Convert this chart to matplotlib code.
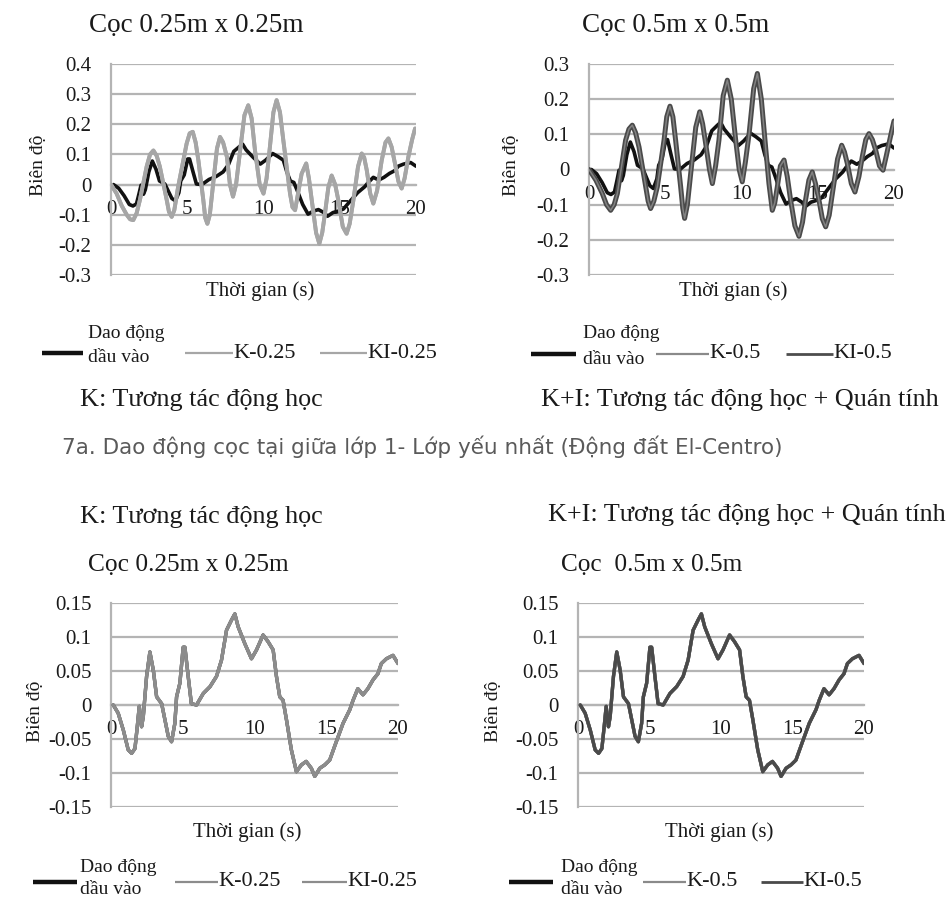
import matplotlib
matplotlib.use("Agg")
import matplotlib.pyplot as plt
from matplotlib.lines import Line2D

W, H = 952, 900
SERIF = ["Liberation Serif", "DejaVu Serif"]
plt.rcParams["font.family"] = SERIF

# ---------------- data ----------------
# input motion (Dao động đầu vào)
t_in = [0.16, 0.5, 0.86, 1.2, 1.44, 1.67, 1.83, 1.97, 2.13, 2.25, 2.48, 2.71, 2.95, 3.18,
        3.53, 3.76, 3.99, 4.22, 4.45, 4.57, 4.8, 5.03, 5.15, 5.38, 5.6, 5.96, 6.43, 6.9,
        7.35, 7.7, 8.05, 8.4, 8.63, 8.86, 9.33, 9.79, 10.14, 10.6, 10.95, 11.3, 11.53,
        11.76, 11.99, 12.23, 12.57, 12.92, 13.27, 13.6, 13.96, 14.2, 14.55, 14.9, 15.24,
        15.7, 16.17, 16.64, 16.87, 17.2, 17.56, 17.9, 18.26, 18.6, 18.84, 19.19, 19.65, 20.0]
y_in = [0.0, -0.012, -0.037, -0.066, -0.071, -0.064, -0.032, -0.002, -0.032, -0.017, 0.042,
        0.078, 0.051, 0.012, 0.002, -0.022, -0.046, -0.054, -0.027, 0.012, 0.032, 0.085,
        0.085, 0.042, 0.002, 0.0, 0.017, 0.027, 0.042, 0.066, 0.11, 0.125, 0.134, 0.115,
        0.09, 0.068, 0.081, 0.103, 0.093, 0.081, 0.042, 0.012, 0.007, -0.022, -0.066,
        -0.098, -0.088, -0.083, -0.093, -0.105, -0.093, -0.088, -0.081, -0.054, -0.027,
        -0.007, 0.007, 0.024, 0.015, 0.024, 0.037, 0.046, 0.061, 0.068, 0.073, 0.061]

# pile 0.25m x 0.25m, layer 1 (K-0.25 and KI-0.25 overlap)
t_k25 = [0, 0.37, 0.7, 1.03, 1.25, 1.46, 1.68, 1.9, 2.34, 2.56, 2.78, 3.0, 3.2, 3.65, 3.8,
         3.98, 4.15, 4.4, 4.96, 5.16, 5.36, 5.55, 5.73, 6.05, 6.18, 6.32, 6.48, 6.7, 6.95,
         7.15, 7.35, 7.6, 7.8, 8.0, 8.2, 8.46, 8.75, 9.0, 9.22, 9.44, 9.75, 10.0, 10.2,
         10.4, 10.65, 10.86, 11.08, 11.3, 11.74, 11.9, 12.07, 12.3, 12.5, 12.8, 12.98,
         13.16, 13.45, 13.66, 13.85, 14.03, 14.25, 14.47, 14.7, 14.9, 15.2, 15.45, 15.65,
         15.9, 16.2, 16.44, 16.6, 16.77, 17.0, 17.2, 17.45, 17.75, 18.0, 18.19, 18.4,
         18.62, 18.85, 19.06, 19.25, 19.5, 19.75, 19.94]
y_k25 = [0, -0.03, -0.07, -0.1, -0.115, -0.118, -0.095, -0.05, 0.06, 0.1, 0.113, 0.095,
         0.06, -0.05, -0.09, -0.107, -0.085, -0.008, 0.136, 0.17, 0.175, 0.14, 0.08, -0.05,
         -0.11, -0.13, -0.1, 0.003, 0.12, 0.158, 0.14, 0.092, 0.0, -0.04, 0.0, 0.11, 0.23,
         0.263, 0.22, 0.114, 0.0, -0.03, 0.02, 0.115, 0.24, 0.28, 0.24, 0.147, -0.03,
         -0.075, -0.085, -0.02, 0.036, 0.07, 0.02, -0.05, -0.16, -0.196, -0.16, -0.096,
         -0.01, 0.03, 0.0, -0.05, -0.14, -0.163, -0.13, -0.05, 0.06, 0.103, 0.09, 0.048,
         -0.03, -0.063, -0.02, 0.08, 0.14, 0.153, 0.125, 0.07, 0.01, -0.013, 0.02, 0.092,
         0.15, 0.186]
ki_k25 = list(y_k25)

# pile 0.5m x 0.5m, layer 1 (K-0.5 and KI-0.5 overlap)
t_k5 = [0, 0.45, 0.87, 1.15, 1.42, 1.65, 1.86, 2.4, 2.62, 2.84, 3.05, 3.28, 3.72, 3.88,
        4.04, 4.25, 4.48, 4.92, 5.1, 5.31, 5.5, 5.68, 6.01, 6.15, 6.27, 6.45, 6.67, 7.0,
        7.26, 7.45, 7.65, 7.9, 8.09, 8.3, 8.52, 8.8, 9.07, 9.33, 9.62, 9.85, 10.05, 10.25,
        10.5, 10.8, 11.04, 11.3, 11.58, 11.8, 12.02, 12.18, 12.35, 12.55, 12.79, 13.0,
        13.22, 13.5, 13.77, 14.0, 14.2, 14.42, 14.64, 14.85, 15.08, 15.3, 15.52, 15.75,
        15.96, 16.3, 16.57, 16.75, 16.94, 17.2, 17.44, 17.7, 17.92, 18.15, 18.36, 18.58,
        18.8, 19.05, 19.28, 19.5, 19.67, 19.85, 20.0]
y_k5 = [0, -0.03, -0.068, -0.1, -0.116, -0.1, -0.068, 0.083, 0.115, 0.126, 0.105, 0.064,
        -0.049, -0.09, -0.111, -0.09, -0.049, 0.083, 0.15, 0.18, 0.15, 0.083, -0.049, -0.11,
        -0.139, -0.1, -0.011, 0.12, 0.164, 0.13, 0.074, 0.0, -0.04, 0.01, 0.083, 0.21,
        0.254, 0.2, 0.083, 0.0, -0.035, 0.02, 0.102, 0.23, 0.273, 0.2, 0.064, -0.04, -0.116,
        -0.095, -0.049, 0.01, 0.027, -0.02, -0.087, -0.16, -0.19, -0.15, -0.087, -0.03,
        -0.007, -0.04, -0.087, -0.14, -0.163, -0.13, -0.068, 0.03, 0.069, 0.05, 0.017,
        -0.04, -0.064, -0.02, 0.036, 0.085, 0.102, 0.085, 0.055, 0.01, -0.002, 0.04, 0.074,
        0.11, 0.138]
ki_k5 = list(y_k5)

# bottom charts: K and KI coincide with the input motion
bot_k25 = list(y_in)
bot_ki25 = list(y_in)
bot_k5 = list(y_in)
bot_ki5 = list(y_in)

xticks = [0, 5, 10, 15, 20]
yticks_top1 = [-0.3, -0.2, -0.1, 0, 0.1, 0.2, 0.3, 0.4]
yticks_top2 = [-0.3, -0.2, -0.1, 0, 0.1, 0.2, 0.3]
yticks_bot = [-0.15, -0.1, -0.05, 0, 0.05, 0.1, 0.15]

# ---------------- drawing ----------------
fig = plt.figure(figsize=(W / 100, H / 100), dpi=100)
INK = "#1a1a1a"

def fx(x):
    return x / W

def fy(y):
    return 1 - y / H

def T(x, y, s, size=15, ha="left", va="center", color=INK, family=SERIF, **kw):
    fig.text(fx(x), fy(y), s, fontsize=size, ha=ha, va=va, color=color, family=family, **kw)

def L(x0, x1, y, color, lw):
    fig.add_artist(Line2D([fx(x0), fx(x1)], [fy(y), fy(y)], transform=fig.transFigure,
                          color=color, lw=lw, solid_capstyle="butt"))

def fmt(v):
    if abs(v) < 1e-9:
        return "0"
    return ("%.2f" % v).rstrip("0")

GRID = "#b4b4b4"
LK = dict(solid_joinstyle="round", solid_capstyle="round")

def make_ax(x0, x1, y0, y1, yticks, ylab_x, ylab_y=0.52):
    ax = fig.add_axes([fx(x0), fy(y1), (x1 - x0) / W, (y1 - y0) / H])
    ax.set_xlim(0, 20)
    ax.set_ylim(yticks[0], yticks[-1])
    ax.set_yticks(yticks)
    ax.set_yticklabels([fmt(v) for v in yticks])
    ax.set_xticks(xticks)
    ax.set_xticklabels([str(v) for v in xticks])
    for sp in ["top", "right"]:
        ax.spines[sp].set_visible(False)
    ax.spines["left"].set_color(GRID)
    ax.spines["left"].set_linewidth(1.6)
    ax.spines["bottom"].set_position(("data", 0))
    ax.spines["bottom"].set_color(GRID)
    ax.spines["bottom"].set_linewidth(1.6)
    ax.grid(axis="y", color=GRID, lw=1.6)
    ax.set_axisbelow(True)
    ax.tick_params(axis="y", length=0, pad=14, labelsize=15, colors=INK)
    ax.tick_params(axis="x", length=0, pad=11, labelsize=15, colors=INK)
    ax.set_ylabel("Biên độ", fontsize=14, color=INK)
    ax.yaxis.set_label_coords(ylab_x, ylab_y)
    ax.patch.set_alpha(0)
    return ax

# ---- top-left
ax1 = make_ax(111, 416, 64, 275, yticks_top1, -0.21)
ax1.plot(t_in, y_in, color="#111111", lw=2.6, zorder=3, **LK)
ax1.plot(t_k25, y_k25, color="#a6a6a6", lw=2.8, zorder=4, **LK)
ax1.plot(t_k25, ki_k25, color="#a6a6a6", lw=2.8, zorder=4, **LK)
T(196, 25, "Cọc 0.25m x 0.25m", size=19.5, ha="center")
T(260, 291, "Thời gian (s)", size=15, ha="center")

# ---- top-right
ax2 = make_ax(589, 894, 64, 275, yticks_top2, -0.226)
ax2.plot(t_in, y_in, color="#111111", lw=2.6, zorder=3, **LK)
ax2.plot(t_k5, ki_k5, color="#4a4a4a", lw=3.6, zorder=4, **LK)
ax2.plot(t_k5, y_k5, color="#828282", lw=1.1, zorder=5, **LK)
T(676, 25, "Cọc 0.5m x 0.5m", size=19.5, ha="center")
T(733, 291, "Thời gian (s)", size=15, ha="center")

# ---- top legends
L(42, 83, 353, "#111111", 3.2)
T(88, 333, "Dao động", size=14)
T(88, 358, "dầu vào", size=14)
L(185, 233, 353, "#a6a6a6", 1.6)
T(233, 353, "K-0.25", size=16)
L(320, 367, 353, "#a6a6a6", 1.6)
T(367, 353, "KI-0.25", size=16)
T(80, 400, "K: Tương tác động học", size=18.8)

L(531, 576, 354, "#111111", 3.2)
T(583, 334, "Dao động", size=14)
T(583, 360, "dầu vào", size=14)
L(656, 709, 354, "#8a8a8a", 1.6)
T(709, 354, "K-0.5", size=16)
L(786, 833, 354, "#4d4d4d", 2.0)
T(833, 354, "KI-0.5", size=16)
T(541, 400, "K+I: Tương tác động học + Quán tính", size=18.8)

# ---- caption
T(62, 447, "7a. Dao động cọc tại giữa lớp 1- Lớp yếu nhất (Động đất El-Centro)",
  size=15.5, color="#5a5a5a", family=["DejaVu Sans"])

# ---- bottom-left
T(80, 517, "K: Tương tác động học", size=18.8)
T(188, 565, "Cọc 0.25m x 0.25m", size=18.3, ha="center")
ax3 = make_ax(111, 398, 603, 807, yticks_bot, -0.233, 0.47)
ax3.plot(t_in, y_in, color="#111111", lw=2.4, zorder=3, **LK)
ax3.plot(t_in, bot_k25, color="#8c8c8c", lw=2.4, zorder=4, **LK)
ax3.plot(t_in, bot_ki25, color="#8c8c8c", lw=2.4, zorder=5, **LK)
T(247, 832, "Thời gian (s)", size=15, ha="center")
L(33, 77, 882, "#111111", 3.2)
T(80, 867, "Dao động", size=14)
T(80, 890, "dầu vào", size=14)
L(175, 218, 882, "#8c8c8c", 1.6)
T(218, 882, "K-0.25", size=16)
L(302, 347, 882, "#8c8c8c", 1.6)
T(347, 882, "KI-0.25", size=16)

# ---- bottom-right
T(548, 515, "K+I: Tương tác động học + Quán tính", size=18.8)
T(652, 565, "Cọc  0.5m x 0.5m", size=18.2, ha="center")
ax4 = make_ax(578, 864, 603, 807, yticks_bot, -0.266, 0.47)
ax4.plot(t_in, y_in, color="#111111", lw=2.4, zorder=3, **LK)
ax4.plot(t_in, bot_k5, color="#8a8a8a", lw=2.4, zorder=4, **LK)
ax4.plot(t_in, bot_ki5, color="#4a4a4a", lw=2.4, zorder=5, **LK)
T(719, 832, "Thời gian (s)", size=15, ha="center")
L(509, 553, 882, "#111111", 3.2)
T(561, 867, "Dao động", size=14)
T(561, 890, "dầu vào", size=14)
L(643, 686, 882, "#8a8a8a", 1.6)
T(686, 882, "K-0.5", size=16)
L(761, 803, 882, "#4a4a4a", 2.0)
T(803, 882, "KI-0.5", size=16)

fig.savefig("out.png", dpi=100, facecolor="white")
